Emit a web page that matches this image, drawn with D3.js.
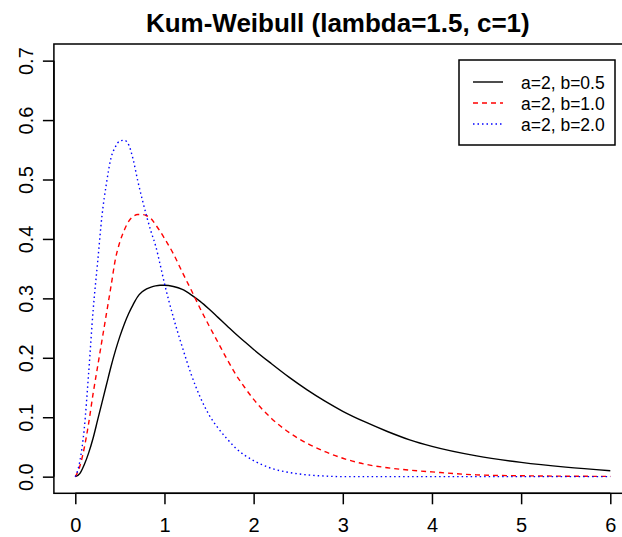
<!DOCTYPE html>
<html lang="en">
<head>
<meta charset="utf-8">
<title>Kum-Weibull</title>
<script src="https://d3js.org/d3.v7.min.js"></script>
<style>
body { margin: 0; background: #fff; }
text { font-family: "Liberation Sans", Arial, sans-serif; }
</style>
</head>
<body>
<div id="container"></div>
<script>
const width = 622;
const height = 537;

// values
const xGrid = [0, 0.05, 0.1, 0.15, 0.2, 0.25, 0.3, 0.35, 0.4, 0.45, 0.5, 0.55, 0.6, 0.65, 0.7, 0.75,
  0.8, 0.85, 0.9, 0.95, 1.0, 1.1, 1.2, 1.3, 1.4, 1.5, 1.6, 1.7, 1.8, 1.9, 2.0, 2.2, 2.4, 2.6, 2.8,
  3.0, 3.25, 3.5, 3.75, 4.0, 4.5, 5.0, 5.5, 6.0];
const b05 = [0, 0.005, 0.02, 0.04, 0.065, 0.095, 0.125, 0.155, 0.185, 0.212, 0.236, 0.257, 0.275, 0.29, 0.303, 0.311,
  0.316, 0.319, 0.321, 0.322, 0.322, 0.32, 0.315, 0.306, 0.295, 0.282, 0.268, 0.254, 0.24, 0.227, 0.214, 0.19, 0.167, 0.146, 0.127,
  0.11, 0.092, 0.076, 0.062, 0.051, 0.035, 0.024, 0.016, 0.010];
const b10 = [0, 0.017, 0.048, 0.09, 0.14, 0.185, 0.23, 0.275, 0.32, 0.366, 0.395, 0.415, 0.43, 0.438, 0.441, 0.441,
  0.439, 0.434, 0.424, 0.413, 0.401, 0.375, 0.344, 0.314, 0.283, 0.254, 0.226, 0.198, 0.172, 0.15, 0.13, 0.098, 0.074, 0.056, 0.042,
  0.031, 0.021, 0.015, 0.011, 0.008, 0.003, 0.0015, 0.0008, 0.0004];
const b20 = [0, 0.025, 0.08, 0.175, 0.28, 0.36, 0.44, 0.494, 0.536, 0.555, 0.565, 0.566, 0.558, 0.533, 0.498, 0.467,
  0.438, 0.412, 0.389, 0.358, 0.325, 0.268, 0.218, 0.172, 0.134, 0.104, 0.082, 0.064, 0.048, 0.036, 0.027, 0.014, 0.007, 0.003, 0.001,
  0, 0, 0, 0, 0, 0, 0, 0, 0];
const seriesNames = ["a=2, b=0.5", "a=2, b=1.0", "a=2, b=2.0"];
const xTicks = [0, 1, 2, 3, 4, 5, 6];
const yTicks = [0, 0.1, 0.2, 0.3, 0.4, 0.5, 0.6, 0.7];

const series = [
  { name: seriesNames[0], values: b05, color: "#000000", dash: null },
  { name: seriesNames[1], values: b10, color: "#ff0000", dash: "5,4" },
  { name: seriesNames[2], values: b20, color: "#0000ff", dash: "1.5,3" }
];

const svg = d3.select("#container").append("svg")
  .attr("width", width)
  .attr("height", height);

const x = d3.scaleLinear().domain([-0.24, 6.24]).range([53.9, 631.7]);
const y = d3.scaleLinear().domain([-0.028, 0.728]).range([493.3, 44]);

// plot box
svg.append("rect")
  .attr("x", x(-0.24)).attr("y", y(0.728))
  .attr("width", x(6.24) - x(-0.24)).attr("height", y(-0.028) - y(0.728))
  .attr("fill", "none").attr("stroke", "#000").attr("stroke-width", 1.5);

// x axis
const xaxis = svg.append("g")
  .attr("transform", "translate(0," + y(-0.028) + ")")
  .call(d3.axisBottom(x).tickValues(xTicks).tickSize(11).tickPadding(14).tickFormat(d3.format("d")));
xaxis.select(".domain").attr("stroke-width", 1.5).attr("d", "M" + x(0) + ",0H" + x(6));
xaxis.selectAll(".tick line").attr("stroke-width", 1.5);
xaxis.selectAll("text").attr("font-size", 20).attr("font-family", "Liberation Sans, Arial, sans-serif");

// y axis
const yaxis = svg.append("g")
  .attr("transform", "translate(" + x(-0.24) + ",0)")
  .call(d3.axisLeft(y).tickValues(yTicks).tickSize(11).tickFormat(d3.format(".1f")));
yaxis.select(".domain").attr("stroke-width", 1.5).attr("d", "M0," + y(0) + "V" + y(0.7));
yaxis.selectAll(".tick line").attr("stroke-width", 1.5);
yaxis.selectAll("text")
  .attr("font-size", 20)
  .attr("font-family", "Liberation Sans, Arial, sans-serif")
  .attr("x", null).attr("dy", null)
  .attr("text-anchor", "middle")
  .attr("transform", "translate(-21,0) rotate(-90)");

// curves
const line = d3.line()
  .x(function(d, i) { return x(xGrid[i]); })
  .y(function(d) { return y(d); })
  .curve(d3.curveMonotoneX);

svg.selectAll(".curve")
  .data(series)
  .enter()
  .append("path")
  .attr("class", "curve")
  .attr("d", function(d) { return line(d.values); })
  .attr("fill", "none")
  .attr("stroke", function(d) { return d.color; })
  .attr("stroke-width", 1.4)
  .attr("stroke-dasharray", function(d) { return d.dash; });

// legend
const legend = svg.append("g");
legend.append("rect")
  .attr("x", 459).attr("y", 60).attr("width", 156).attr("height", 85)
  .attr("fill", "#fff").attr("stroke", "#000").attr("stroke-width", 1.5);
const items = legend.selectAll(".item")
  .data(series)
  .enter()
  .append("g")
  .attr("transform", function(d, i) { return "translate(0," + (82 + i * 21) + ")"; });
items.append("line")
  .attr("x1", 473).attr("x2", 503)
  .attr("stroke", function(d) { return d.color; })
  .attr("stroke-width", 1.4)
  .attr("stroke-dasharray", function(d) { return d.dash; });
items.append("text")
  .attr("x", 521).attr("y", 6.5)
  .attr("font-size", 17.5)
  .text(function(d) { return d.name; });

// title
svg.append("text")
  .attr("x", (x(-0.24) + x(6.24)) / 2 - 5)
  .attr("y", 32)
  .attr("text-anchor", "middle")
  .attr("font-size", 26)
  .attr("font-weight", "bold")
  .text("Kum-Weibull (lambda=1.5, c=1)");
</script>
</body>
</html>
